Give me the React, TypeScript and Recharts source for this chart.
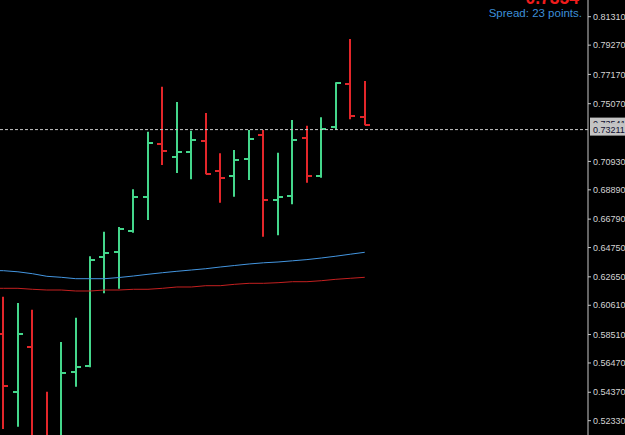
import { ComposedChart, Bar, Line, XAxis, YAxis, ReferenceLine } from "recharts";

// bar number, -1 is the bar just left of the window (only the moving averages use it)
const barNo = [-1, 0, 1, 2, 3, 4, 5, 6, 7, 8, 9, 10, 11, 12, 13, 14, 15, 16, 17, 18, 19, 20, 21, 22, 23, 24, 25];

const opens = [null, 0.58549, 0.5441, 0.57617, 0.51089, 0.50587, 0.55845, 0.56254, 0.64073, 0.64453, 0.65959, 0.68398, 0.72178, 0.71267, 0.71626, 0.72415, 0.70242, 0.69883, 0.71067, 0.72846, 0.68183, 0.6847, 0.7263, 0.69905, 0.73398, 0.76504, 0.74137];
const highs = [null, 0.61225, 0.60773, 0.60292, 0.5441, 0.57975, 0.59718, 0.64123, 0.65887, 0.66225, 0.68929, 0.73061, 0.76289, 0.75191, 0.73132, 0.74402, 0.71511, 0.71748, 0.73183, 0.73183, 0.71554, 0.739, 0.73491, 0.74094, 0.76604, 0.7971, 0.76698];
const lows = [null, 0.51735, 0.519, 0.50587, 0.4987, 0.4987, 0.54769, 0.56161, 0.61468, 0.61799, 0.65816, 0.66727, 0.70672, 0.70098, 0.69646, 0.70005, 0.67968, 0.68398, 0.69596, 0.65529, 0.65629, 0.67853, 0.69402, 0.69761, 0.73183, 0.7395, 0.7353];
const closes = [null, 0.54841, 0.58571, 0.50946, 0.50228, 0.55773, 0.56182, 0.63857, 0.64381, 0.66081, 0.68398, 0.72229, 0.71655, 0.71583, 0.72465, 0.70026, 0.69761, 0.71009, 0.72559, 0.68161, 0.68355, 0.72487, 0.69905, 0.73276, 0.76533, 0.74187, 0.73541];

const blueMA = [0.63104, 0.6309, 0.63011, 0.62875, 0.62688, 0.62616, 0.62516, 0.62516, 0.62516, 0.62602, 0.6271, 0.62832, 0.62946, 0.63047, 0.6314, 0.63233, 0.63355, 0.63463, 0.63571, 0.63657, 0.63714, 0.638, 0.63886, 0.64001, 0.6413, 0.64273, 0.6441];
const redMA = [0.61827, 0.61827, 0.61827, 0.61756, 0.61705, 0.61705, 0.61634, 0.61634, 0.61705, 0.61705, 0.61756, 0.61756, 0.61827, 0.61921, 0.61921, 0.62014, 0.62014, 0.62114, 0.62186, 0.62186, 0.62229, 0.62301, 0.62301, 0.62373, 0.62473, 0.62545, 0.62616];

const priceTicks = [0.8131, 0.7927, 0.7717, 0.7507, 0.7093, 0.6889, 0.6679, 0.6475, 0.6265, 0.6061, 0.5851, 0.5647, 0.5437, 0.5233];
const bidPrice = 0.73211;
const askPrice = 0.73541;
const bigPrice = "0.7354";
const spreadText = "Spread: 23 points.";

const GREEN = "#44d68b";
const RED = "#e3262a";
const FONT = "'Liberation Sans', Arial, sans-serif";

const data = barNo.map((n, k) => ({
  n,
  range: highs[k] == null ? null : [lows[k], highs[k]],
  o: opens[k],
  h: highs[k],
  l: lows[k],
  c: closes[k],
  blue: blueMA[k],
  red: redMA[k],
}));

function OhlcBar(props: any) {
  const { x, y, width, height, payload } = props;
  if (!payload || payload.h == null) return null;
  const { o, h, l, c } = payload;
  const top = Math.min(y, y + height);
  const bottom = Math.max(y, y + height);
  const cx = Math.round(x + width / 2);
  const py = (v: number) => Math.round(top + ((h - v) / (h - l)) * (bottom - top));
  const color = c >= o ? GREEN : RED;
  return (
    <g stroke={color} strokeWidth={2}>
      <line x1={cx} x2={cx} y1={top} y2={bottom} />
      <line x1={cx - 5} x2={cx} y1={py(o)} y2={py(o)} />
      <line x1={cx} x2={cx + 5} y1={py(c)} y2={py(c)} />
    </g>
  );
}

// ask label sits behind the bid label, only its top shows
function PriceLabel(props: any) {
  const vb = props.viewBox;
  const x0 = vb.x + vb.width + 2;
  const y0 = vb.y;
  return (
    <g fontFamily={FONT} fontSize={9} fill="#101030">
      <rect x={x0} y={y0 - 12} width={40} height={10} fill="#c4c4c4" />
      <text x={x0 + 3} y={y0 - 3}>{askPrice.toFixed(5)}</text>
      <rect x={x0} y={y0 - 6.5} width={40} height={12.5} fill="#c4c4c4" />
      <text x={x0 + 3} y={y0 + 3.5}>{bidPrice.toFixed(5)}</text>
    </g>
  );
}

export default function App() {
  return (
    <div style={{ position: "fixed", left: 0, top: 0, width: 625, height: 435, background: "#000", overflow: "hidden" }}>
      <ComposedChart width={625} height={435} data={data} margin={{ top: 0, right: 0, bottom: 0, left: 0 }}>
        <XAxis dataKey="n" type="number" domain={[-0.242, 40.45]} allowDataOverflow hide />
        <YAxis
          orientation="right"
          width={37}
          domain={[0.51304, 0.82508]}
          allowDataOverflow
          ticks={priceTicks}
          interval={0}
          tickFormatter={(v: number) => v.toFixed(5)}
          axisLine={{ stroke: "#c8c8c8" }}
          tickLine={{ stroke: "#c8c8c8" }}
          tickSize={3}
          tickMargin={2}
          tick={{ fill: "#d4d4d4", fontSize: 9, fontFamily: FONT }}
        />
        <Line dataKey="red" type="linear" stroke="#c42020" strokeWidth={1} dot={false} isAnimationActive={false} />
        <Line dataKey="blue" type="linear" stroke="#4496e0" strokeWidth={1} dot={false} isAnimationActive={false} />
        <Bar dataKey="range" barSize={10} shape={OhlcBar} isAnimationActive={false} />
        <ReferenceLine y={bidPrice} stroke="#c8c8c8" strokeDasharray="3 2" label={PriceLabel} />
      </ComposedChart>
      <svg width={625} height={30} style={{ position: "absolute", left: 0, top: 0 }}>
        <text x={579} y={4} textAnchor="end" fontFamily={FONT} fontWeight="bold" fontSize={17.5} fill="#f01c1c">
          {bigPrice}
        </text>
        <text x={582} y={16.7} textAnchor="end" fontFamily={FONT} fontSize={11.5} fill="#3d8fd8">
          {spreadText}
        </text>
      </svg>
    </div>
  );
}
